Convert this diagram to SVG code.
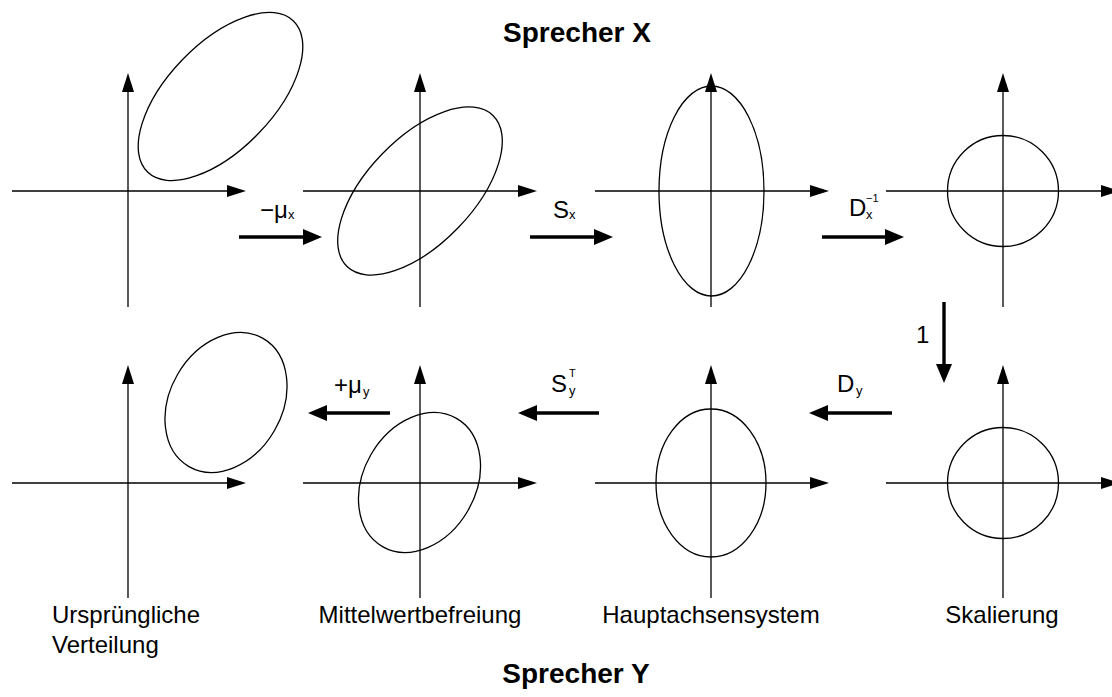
<svg xmlns="http://www.w3.org/2000/svg" width="1112" height="697" viewBox="0 0 1112 697">
<defs>
<style>
.ax{stroke:#000;stroke-width:1.3;fill:none}
.sh{stroke:#000;stroke-width:1.3;fill:none}
.ar{stroke:#000;stroke-width:3.4;fill:none}
text{font-family:"Liberation Sans",Arial,Helvetica,sans-serif;fill:#000}
.lbl{font-size:24px}
.sub{font-size:13px}
.sup{font-size:11px}
.ttl{font-size:28px;font-weight:bold}
</style>
<marker id="ah" markerUnits="userSpaceOnUse" markerWidth="22" markerHeight="14" refX="1" refY="6" orient="auto" overflow="visible"><path d="M0,0 L19,6 L0,12 z" fill="#000"/></marker>
<marker id="bh" markerUnits="userSpaceOnUse" markerWidth="22" markerHeight="18" refX="1" refY="8" orient="auto" overflow="visible"><path d="M0,0 L19,8 L0,16 z" fill="#000"/></marker>
</defs>
<rect width="1112" height="697" fill="#fff"/>
<text class="ttl" x="577" y="42" text-anchor="middle">Sprecher X</text>
<text class="ttl" x="576" y="683" text-anchor="middle">Sprecher Y</text>

<g id="x1">
<line class="ax" x1="12" y1="191" x2="228" y2="191" marker-end="url(#ah)"/>
<line class="ax" x1="128" y1="307" x2="128" y2="91" marker-end="url(#ah)"/>
<ellipse class="sh" cx="220.5" cy="96.5" rx="105" ry="53" transform="rotate(-46 220.5 96.5)"/>
</g>
<g id="x2">
<line class="ax" x1="303" y1="191" x2="519" y2="191" marker-end="url(#ah)"/>
<line class="ax" x1="420" y1="307" x2="420" y2="91" marker-end="url(#ah)"/>
<ellipse class="sh" cx="420" cy="191" rx="105" ry="53" transform="rotate(-46 420 191)"/>
</g>
<g id="x3">
<line class="ax" x1="595" y1="191" x2="811" y2="191" marker-end="url(#ah)"/>
<line class="ax" x1="711" y1="307" x2="711" y2="91" marker-end="url(#ah)"/>
<ellipse class="sh" cx="711.5" cy="191" rx="52.5" ry="105"/>
</g>
<g id="x4">
<line class="ax" x1="886" y1="191" x2="1102" y2="191" marker-end="url(#ah)"/>
<line class="ax" x1="1003" y1="307" x2="1003" y2="91" marker-end="url(#ah)"/>
<circle class="sh" cx="1003" cy="191" r="55.5"/>
</g>

<g id="y1">
<line class="ax" x1="12" y1="483" x2="228" y2="483" marker-end="url(#ah)"/>
<line class="ax" x1="128" y1="598" x2="128" y2="383" marker-end="url(#ah)"/>
<ellipse class="sh" cx="226" cy="402.5" rx="74" ry="56" transform="rotate(-60 226 402.5)"/>
<text class="lbl" x="52" y="623">Ursprüngliche</text>
<text class="lbl" x="52" y="653">Verteilung</text>
</g>
<g id="y2">
<line class="ax" x1="303" y1="483" x2="519" y2="483" marker-end="url(#ah)"/>
<line class="ax" x1="420" y1="598" x2="420" y2="383" marker-end="url(#ah)"/>
<ellipse class="sh" cx="419.5" cy="482.5" rx="74" ry="56" transform="rotate(-60 419.5 482.5)"/>
<text class="lbl" x="420" y="623" text-anchor="middle">Mittelwertbefreiung</text>
</g>
<g id="y3">
<line class="ax" x1="595" y1="483" x2="811" y2="483" marker-end="url(#ah)"/>
<line class="ax" x1="711" y1="598" x2="711" y2="383" marker-end="url(#ah)"/>
<ellipse class="sh" cx="711" cy="483" rx="55" ry="74"/>
<text class="lbl" x="711" y="623" text-anchor="middle">Hauptachsensystem</text>
</g>
<g id="y4">
<line class="ax" x1="886" y1="483" x2="1102" y2="483" marker-end="url(#ah)"/>
<line class="ax" x1="1003" y1="598" x2="1003" y2="383" marker-end="url(#ah)"/>
<circle class="sh" cx="1003" cy="483" r="55.5"/>
<text class="lbl" x="1002" y="623" text-anchor="middle">Skalierung</text>
</g>

<g id="connectors">
<line class="ar" x1="239" y1="237" x2="304" y2="237" marker-end="url(#bh)"/>
<line class="ar" x1="530" y1="237" x2="595" y2="237" marker-end="url(#bh)"/>
<line class="ar" x1="822" y1="237" x2="886" y2="237" marker-end="url(#bh)"/>
<line class="ar" x1="944" y1="302" x2="944" y2="365" marker-end="url(#bh)"/>
<line class="ar" x1="892" y1="413" x2="827" y2="413" marker-end="url(#bh)"/>
<line class="ar" x1="599" y1="413" x2="536" y2="413" marker-end="url(#bh)"/>
<line class="ar" x1="390" y1="413" x2="326" y2="413" marker-end="url(#bh)"/>
</g>
<g id="connector-labels">
<text class="lbl" x="260" y="218">−μ</text><text class="sub" x="288" y="219">x</text>
<text class="lbl" x="553" y="218">S</text><text class="sub" x="569" y="219">x</text>
<text class="lbl" x="849" y="216">D</text><text class="sub" x="866" y="219">x</text><text class="sup" x="866" y="202">−1</text>
<text class="lbl" x="916" y="343">1</text>
<text class="lbl" x="837" y="392">D</text><text class="sub" x="856" y="395">y</text>
<text class="lbl" x="551" y="392">S</text><text class="sub" x="569" y="395">y</text><text class="sup" x="569" y="377">T</text>
<text class="lbl" x="334" y="393">+μ</text><text class="sub" x="363" y="396">y</text>
</g>
</svg>
